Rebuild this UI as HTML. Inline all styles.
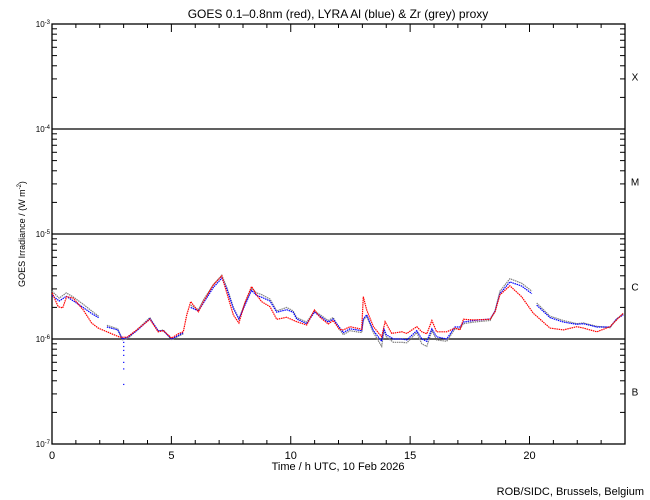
<!DOCTYPE html>
<html><head><meta charset="utf-8"><style>
html,body{margin:0;padding:0;background:#fff;}
svg{display:block;font-family:"Liberation Sans",sans-serif;}
</style></head><body>
<svg id="chart" width="650" height="500" viewBox="0 0 650 500" xmlns="http://www.w3.org/2000/svg">
<rect width="650" height="500" fill="#fff"/>
<text x="338" y="18" font-size="12" text-anchor="middle">GOES 0.1–0.8nm (red), LYRA Al (blue) &amp; Zr (grey) proxy</text>
<text x="338" y="470" font-size="11" text-anchor="middle">Time / h UTC, 10 Feb 2026</text>
<text transform="translate(25,234) rotate(-90)" font-size="9" text-anchor="middle">GOES Irradiance / (W m<tspan font-size="6" dy="-4">-2</tspan><tspan dy="4">)</tspan></text>
<text x="644" y="495" font-size="11" text-anchor="end">ROB/SIDC, Brussels, Belgium</text>
<g id="axes"></g>
<g id="series"></g>
</svg>
<script>
const xTicks = [0, 5, 10, 15, 20];
const yDecades = [-7, -6, -5, -4, -3];
const classLabels = ["B", "C", "M", "X"];
const redHours = [0.01,0.26,0.45,0.61,0.89,1.31,1.66,1.94,2.5,2.85,3.14,3.55,4.1,4.45,4.66,5.01,5.29,5.5,5.64,5.81,6.13,6.34,6.76,7.11,7.32,7.6,7.83,8.08,8.36,8.57,8.78,9.13,9.41,9.83,10.25,10.67,10.99,11.23,11.57,11.78,12.03,12.2,12.48,12.97,13.04,13.18,13.46,13.81,13.95,14.23,14.65,14.86,15.28,15.49,15.7,15.91,16.11,16.53,16.88,17.09,17.23,17.65,18.35,18.56,18.76,19.18,19.67,20.16,20.86,21.42,21.98,22.26,22.82,23.37,23.65,23.93];
const redValues = [2.75e-6,2.03e-6,1.98e-6,2.53e-6,2.45e-6,1.89e-6,1.42e-6,1.27e-6,1.12e-6,1.04e-6,1.04e-6,1.22e-6,1.54e-6,1.17e-6,1.2e-6,1.02e-6,1.12e-6,1.17e-6,1.69e-6,2.27e-6,1.82e-6,2.27e-6,3.28e-6,3.99e-6,2.75e-6,1.69e-6,1.42e-6,2.21e-6,3.16e-6,2.63e-6,2.27e-6,2.03e-6,1.54e-6,1.61e-6,1.46e-6,1.36e-6,1.89e-6,1.61e-6,1.39e-6,1.5e-6,1.24e-6,1.22e-6,1.31e-6,1.24e-6,2.53e-6,1.89e-6,1.31e-6,1.05e-6,1.46e-6,1.13e-6,1.17e-6,1.13e-6,1.31e-6,1.17e-6,1.12e-6,1.5e-6,1.17e-6,1.17e-6,1.27e-6,1.22e-6,1.54e-6,1.52e-6,1.54e-6,1.82e-6,2.63e-6,3.21e-6,2.53e-6,1.76e-6,1.27e-6,1.22e-6,1.31e-6,1.27e-6,1.17e-6,1.31e-6,1.52e-6,1.76e-6];
const blueHours = [0.0,0.3,0.6,0.9,1.3,1.66,1.95,null,2.3,2.75,2.95,3.2,3.55,4.1,4.45,4.66,5.01,5.29,5.5,null,5.81,6.13,6.34,6.76,7.11,7.32,7.6,7.83,8.08,8.36,8.57,8.78,9.13,9.41,9.83,10.1,10.25,10.67,10.99,11.23,11.57,11.78,12.03,12.2,12.48,12.97,13.04,13.18,13.46,13.81,13.9,14.0,14.3,14.65,14.86,15.28,15.49,15.7,15.91,16.11,16.53,16.88,17.09,17.23,17.65,18.35,18.56,18.76,19.18,19.67,20.1,null,20.3,20.86,21.42,21.98,22.26,22.82,23.37,23.65,23.93];
const blueValues = [2.6e-6,2.3e-6,2.55e-6,2.3e-6,2.0e-6,1.75e-6,1.6e-6,null,1.3e-6,1.22e-6,1.0e-6,1.05e-6,1.2e-6,1.56e-6,1.2e-6,1.2e-6,1.0e-6,1.08e-6,1.15e-6,null,2.0e-6,1.85e-6,2.2e-6,3.1e-6,3.8e-6,3.0e-6,1.95e-6,1.55e-6,2.1e-6,2.9e-6,2.6e-6,2.5e-6,2.3e-6,1.8e-6,1.9e-6,1.8e-6,1.55e-6,1.4e-6,1.8e-6,1.65e-6,1.45e-6,1.55e-6,1.3e-6,1.15e-6,1.25e-6,1.2e-6,1.55e-6,1.7e-6,1.2e-6,0.95e-6,1.25e-6,1.1e-6,1.0e-6,1.0e-6,0.98e-6,1.2e-6,1.0e-6,0.95e-6,1.25e-6,1.05e-6,1.0e-6,1.3e-6,1.3e-6,1.45e-6,1.5e-6,1.55e-6,1.85e-6,2.7e-6,3.5e-6,3.2e-6,2.7e-6,null,2.1e-6,1.6e-6,1.45e-6,1.38e-6,1.4e-6,1.3e-6,1.3e-6,1.55e-6,1.7e-6];
const spikeHours = [3.0,3.0,3.0,3.0,3.0,3.0,3.0];
const spikeValues = [0.93e-6,0.85e-6,0.78e-6,0.7e-6,0.6e-6,0.52e-6,0.37e-6];
const greyHours = [0.0,0.3,0.6,0.9,1.3,1.66,1.95,null,2.3,2.75,2.95,3.2,3.55,4.1,4.45,4.66,5.01,5.29,5.5,null,5.81,6.13,6.34,6.76,7.11,7.32,7.6,7.83,8.08,8.36,8.57,8.78,9.13,9.41,9.83,10.1,10.25,10.67,10.99,11.23,11.57,11.78,12.03,12.2,12.48,12.97,13.04,13.18,13.46,13.81,13.9,14.0,14.3,14.65,14.86,15.28,15.49,15.7,15.91,16.11,16.53,16.88,17.09,17.23,17.65,18.35,18.56,18.76,19.18,19.67,20.1,null,20.3,20.86,21.42,21.98,22.26,22.82,23.37,23.65,23.93];
const greyValues = [2.85e-6,2.45e-6,2.75e-6,2.5e-6,2.15e-6,1.85e-6,1.65e-6,null,1.35e-6,1.25e-6,0.98e-6,1.02e-6,1.22e-6,1.6e-6,1.18e-6,1.22e-6,0.98e-6,1.06e-6,1.12e-6,null,2.1e-6,1.9e-6,2.35e-6,3.3e-6,4.05e-6,3.1e-6,2.0e-6,1.55e-6,2.2e-6,3.05e-6,2.75e-6,2.65e-6,2.4e-6,1.85e-6,2.0e-6,1.85e-6,1.6e-6,1.45e-6,1.85e-6,1.7e-6,1.5e-6,1.6e-6,1.25e-6,1.1e-6,1.2e-6,1.15e-6,1.5e-6,1.65e-6,1.15e-6,0.85e-6,1.2e-6,1.05e-6,0.93e-6,0.93e-6,0.92e-6,1.15e-6,0.9e-6,0.85e-6,1.2e-6,0.98e-6,0.95e-6,1.25e-6,1.25e-6,1.4e-6,1.45e-6,1.5e-6,1.85e-6,2.85e-6,3.75e-6,3.4e-6,2.85e-6,null,2.2e-6,1.65e-6,1.5e-6,1.4e-6,1.42e-6,1.32e-6,1.28e-6,1.55e-6,1.75e-6];

const X0 = 52, X1 = 625, Y0 = 444, Y1 = 24;
const xScale = h => X0 + h / 24 * (X1 - X0);
const yScale = v => Y0 - (Math.log10(v) + 7) / 4 * (Y0 - Y1);
const NS = "http://www.w3.org/2000/svg";
function mk(tag, attrs, parent) {
  const e = document.createElementNS(NS, tag);
  for (const k in attrs) e.setAttribute(k, attrs[k]);
  parent.appendChild(e);
  return e;
}
const axes = document.getElementById('axes');
const series = document.getElementById('series');

const frame = mk('rect', {x: X0, y: Y1, width: X1 - X0, height: Y0 - Y1, fill: 'none', stroke: '#000', 'stroke-width': 1.3}, axes);



for (let h = 0; h <= 24; h++) {
  const x = xScale(h);
  const len = (h % 5 === 0) ? 8 : 4;
  const t1 = mk('line', {x1: x, y1: Y0, x2: x, y2: Y0 - len, stroke: '#000'}, axes);
  
  
  const t2 = mk('line', {x1: x, y1: Y1, x2: x, y2: Y1 + len, stroke: '#000'}, axes);
  
  
}
xTicks.forEach(h => {
  const t = mk('text', {x: xScale(h), y: Y0 + 15, 'font-size': 11, 'text-anchor': 'middle'}, axes);
  t.textContent = h;
  
  
});

yDecades.forEach((d, i) => {
  const y = yScale(Math.pow(10, d));
  const lab = mk('text', {x: X0 - 2, y: y + 3, 'font-size': 8, 'text-anchor': 'end'}, axes);
  lab.innerHTML = '10<tspan font-size="6" dy="-3">' + d + '</tspan>';
  
  
  if (i < yDecades.length - 1) {
    for (let m = 2; m <= 9; m++) {
      const ym = yScale(m * Math.pow(10, d));
      const a = mk('line', {x1: X0, y1: ym, x2: X0 + 5, y2: ym, stroke: '#000'}, axes);
      
      
      const b = mk('line', {x1: X1, y1: ym, x2: X1 - 5, y2: ym, stroke: '#000'}, axes);
      
      
    }
    const cl = mk('text', {x: 635, y: yScale(Math.pow(10, d + 0.5)) + 4, 'font-size': 10, 'text-anchor': 'middle'}, axes);
    cl.textContent = classLabels[i];
    
    
  }
  if (d > -7 && d < -3) {
    const gl = mk('line', {x1: X0, y1: y, x2: X1, y2: y, stroke: '#000', 'stroke-width': 1.3}, axes);
    
    
  }
});

function drawSeries(hours, vals, color, name) {
  let pts = [];
  const flush = () => {
    if (pts.length > 1) {
      const p = mk('polyline', {points: pts.join(' '), fill: 'none', stroke: color, 'stroke-width': 1.2, 'stroke-dasharray': '1.5 0.7'}, series);
      
      
    }
    pts = [];
  };
  hours.forEach((h, i) => {
    if (h === null || vals[i] === null) { flush(); return; }
    pts.push(xScale(h).toFixed(1) + ',' + yScale(vals[i]).toFixed(1));
  });
  flush();
}
drawSeries(greyHours, greyValues, '#808080', 'lyra-zr-series');
drawSeries(blueHours, blueValues, '#0000ff', 'lyra-al-series');
drawSeries(redHours, redValues, '#ff0000', 'goes-series');
spikeHours.forEach((h, i) => {
  const c = mk('rect', {x: xScale(h) - 0.5, y: yScale(spikeValues[i]) - 0.5, width: 1.2, height: 1.2, fill: '#0000ff'}, series);
  
  
});
</script>
</body></html>
